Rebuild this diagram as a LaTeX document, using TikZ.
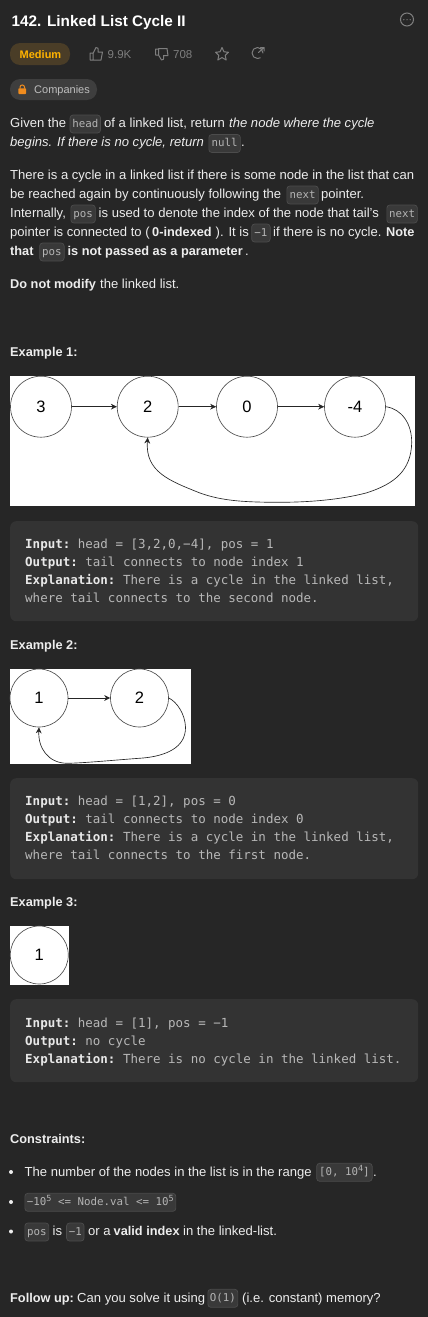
\documentclass[tikz,border=0pt]{standalone}
\usepackage{fontspec}
\setmainfont{Liberation Sans}
\setmonofont{DejaVu Sans Mono}
\usetikzlibrary{arrows.meta}
\definecolor{bg}{HTML}{262626}
\definecolor{body}{HTML}{EDEDED}
\definecolor{boxfill}{HTML}{333333}
\definecolor{chipfill}{HTML}{393939}
\definecolor{chipline}{HTML}{4C4C4C}
\definecolor{chiptext}{HTML}{B4B4B4}
\definecolor{codetext}{HTML}{B8B8B8}
\definecolor{codelabel}{HTML}{E8E8E8}
\definecolor{muted}{HTML}{7E7E7E}
\definecolor{medfill}{HTML}{4A3D27}
\definecolor{medtext}{HTML}{FFB300}
\definecolor{compfill}{HTML}{3E3E3E}
\definecolor{comptext}{HTML}{BEBEBE}
\definecolor{lockc}{HTML}{F08C1E}
\newcommand{\bodysize}{\fontsize{13.07}{16}\selectfont}
\newcommand{\boldsize}{\fontsize{12.75}{16}\selectfont}
\newcommand{\supr}[1]{\raisebox{3.6pt}{\fontsize{8.5}{9}\selectfont #1}}
\tikzset{
  txt/.style={inner sep=0pt,anchor=base west,text=body,font=\bodysize},
  ita/.style={txt,font=\bodysize\itshape},
  bld/.style={txt,font=\boldsize\bfseries},
  chip/.style={draw=chipline,fill=chipfill,line width=.7pt,rounded corners=3pt,inner sep=0pt,
    anchor=west,minimum width=#1,minimum height=18pt,text=chiptext,
    text height=8.5pt,text depth=2.2pt,font=\ttfamily\fontsize{10.8}{12}\selectfont},
  codebox/.style={fill=boxfill,rounded corners=6pt},
  codeline/.style={inner sep=0pt,anchor=base west,text=codetext,font=\ttfamily\fontsize{12.5}{14}\selectfont},
  panel/.style={fill=white},
  lnode/.style={circle,draw=black!70,line width=.65pt,inner sep=0pt,minimum size=#1,text=black,
    font=\fontsize{16.5}{18}\selectfont},
  edge/.style={draw=black!85,line width=.65pt,-{Stealth[length=6pt,width=5.8pt]}},
  icon/.style={draw=muted,line width=1pt,line join=round,line cap=round},
}
\newcommand{\lab}[1]{\textcolor{codelabel}{\bfseries #1}}
\begin{document}
\begin{tikzpicture}[x=1pt,y=-1pt]
\useasboundingbox (0,0) rectangle (428,1317);
\fill[bg] (0,0) rectangle (428,1317);

% header
\node[txt,anchor=base west,font=\fontsize{15.3}{18}\selectfont\bfseries,text=white] (title) at (11.5,26) {142. Linked List Cycle II};
\node[circle,draw=muted,line width=1pt,minimum size=13pt,inner sep=0pt] (more) at (407,19.5) {};
\fill[muted] (403.8,19.7) circle (.7) (407,19.7) circle (.7) (410.2,19.7) circle (.7);
\node[fill=medfill,rounded corners=10pt,minimum width=60pt,minimum height=22pt,inner sep=0pt,anchor=center] (medium) at (40,54) {};
\node[txt,font=\fontsize{11}{14}\selectfont\bfseries,text=medtext] (mediumt) at (19.5,58.5) {Medium};
\draw[icon] (90,53) rectangle (93,60) (93,53.5) -- (96,47.5) .. controls (98,47) and (98.5,48.5) .. (98,52) -- (102.5,52) -- (101,60) -- (93,60);
\node[txt,font=\fontsize{11.5}{14}\selectfont,text=muted] (likes) at (107.5,58.5) {9.9K};
\draw[icon] (155.5,49) rectangle (158.5,55) (158.5,55) -- (161.5,60) .. controls (163.5,60.5) and (164,59) .. (163.5,55.5) -- (168,55.5) -- (167,48.5) -- (158.5,48.5);
\node[txt,font=\fontsize{11.5}{14}\selectfont,text=muted] (dislikes) at (173,58.5) {708};
\draw[icon] (222,47.5) -- (224,51.8) -- (228.5,52.3) -- (225.2,55.3) -- (226.2,60) -- (222,57.6) -- (217.8,60) -- (218.8,55.3) -- (215.5,52.3) -- (220,51.8) -- cycle;
\draw[icon] (263,53) arc[start angle=0,end angle=-300,radius=5.5] (258.5,52.5) -- (264,47.5) (260.5,47.5) -- (264,47.5) -- (264,51);
\node[fill=compfill,rounded corners=10pt,minimum width=87pt,minimum height=21pt,inner sep=0pt] (companies) at (53.5,89.5) {};
\fill[lockc,rounded corners=.8pt] (18.3,88.3) rectangle (26.2,94);
\draw[lockc,line width=1pt] (20,88.5) -- (20,87.2) arc[start angle=180,end angle=360,radius=2.25] -- (24.5,88.5);
\node[txt,font=\fontsize{11}{14}\selectfont,text=comptext] (companiest) at (34,93.5) {Companies};

% paragraph 1
\node[txt] (p1a) at (10,127) {Given the};
\node[chip=30.5pt] (c1) at (69.7,124) {head};
\node[txt] (p1b) at (104,127) {of a linked list, return};
\node[ita] (p1c) at (229,127) {the node where the cycle};
\node[ita] (p1d) at (10,146) {begins. If there is no cycle, return};
\node[chip=31.5pt] (c2) at (208.5,143.5) {null};
\node[txt] (p1e) at (241,146) {.};

% paragraph 2
\node[txt] (p2a) at (10,179) {There is a cycle in a linked list if there is some node in the list that can};
\node[txt] (p2b) at (10,198) {be reached again by continuously following the};
\node[chip=31.5pt] (c3) at (286.5,195) {next};
\node[txt] (p2c) at (321,198) {pointer.};
\node[txt] (p2d) at (10,217) {Internally,};
\node[chip=24.5pt] (c4) at (70.5,214) {pos};
\node[txt] (p2e) at (98.5,217) {is used to denote the index of the node that tail's};
\node[chip=30.5pt] (c5) at (386.5,214) {next};
\node[txt] (p2f) at (10,236) {pointer is connected to (};
\node[bld] (p2g) at (152,236) {0-indexed};
\node[txt] (p2h) at (215.5,236) {). It is};
\node[chip=18.5pt] (c6) at (251.3,233) {−1};
\node[txt] (p2i) at (273,236) {if there is no cycle.};
\node[bld] (p2j) at (386,236) {Note};
\node[bld] (p2k) at (10,255) {that};
\node[chip=24.5pt] (c7) at (39.3,252) {pos};
\node[bld] (p2l) at (67.5,255) {is not passed as a parameter};
\node[txt] (p2m) at (245,255) {.};
\node[bld] (p3a) at (10,288) {Do not modify};
\node[txt] (p3b) at (100,288) {the linked list.};

% example 1
\node[bld] (ex1) at (10,356) {Example 1:};
\node[panel,inner sep=0pt,minimum width=405pt,minimum height=130pt,anchor=north west] (img1) at (10,376) {};
\node[lnode=61pt] (a) at (41,406.7) {3};
\node[lnode=61pt] (b) at (147.7,406.7) {2};
\node[lnode=61pt] (c) at (247,406.7) {0};
\node[lnode=61pt] (d) at (355,406.7) {-4};
\draw[edge] (a) -- (b);
\draw[edge] (b) -- (c);
\draw[edge] (c) -- (d);
\draw[edge] (d.east) .. controls (402,409) and (412,424) .. (411.7,443) .. controls (411,470) and (395,484) .. (366,493) .. controls (335,501) and (300,502.5) .. (273,502.3) .. controls (245,502) and (222,501) .. (200,493) .. controls (170,481) and (145,472) .. (b.south);
\node[codebox,inner sep=0pt,minimum width=408pt,minimum height=100pt,anchor=north west] (box1) at (10,521) {};
\node[codeline] (l11) at (25,548) {\lab{Input:} head = [3,2,0,−4], pos = 1};
\node[codeline] (l12) at (25,566) {\lab{Output:} tail connects to node index 1};
\node[codeline] (l13) at (25,584) {\lab{Explanation:} There is a cycle in the linked list,};
\node[codeline] (l14) at (25,602) {where tail connects to the second node.};

% example 2
\node[bld] (ex2) at (10,649) {Example 2:};
\node[panel,inner sep=0pt,minimum width=181pt,minimum height=95pt,anchor=north west] (img2) at (10,669) {};
\node[lnode=58pt] (e) at (39,698) {1};
\node[lnode=58pt] (f) at (139.5,698) {2};
\draw[edge] (e) -- (f);
\draw[edge] (f.east) .. controls (177,702) and (185,714) .. (185.5,727) .. controls (186,748) and (165,756) .. (143,758) .. controls (115,760) and (85,763) .. (67,763.3) .. controls (48,763) and (38,748) .. (e.south);
\node[codebox,inner sep=0pt,minimum width=408pt,minimum height=101pt,anchor=north west] (box2) at (10,778) {};
\node[codeline] (l21) at (25,805) {\lab{Input:} head = [1,2], pos = 0};
\node[codeline] (l22) at (25,823) {\lab{Output:} tail connects to node index 0};
\node[codeline] (l23) at (25,841) {\lab{Explanation:} There is a cycle in the linked list,};
\node[codeline] (l24) at (25,859) {where tail connects to the first node.};

% example 3
\node[bld] (ex3) at (10,906) {Example 3:};
\node[panel,inner sep=0pt,minimum width=59pt,minimum height=59pt,anchor=north west] (img3) at (10,926) {};
\node[lnode=58pt] (g) at (39.3,955) {1};
\node[codebox,inner sep=0pt,minimum width=408pt,minimum height=83pt,anchor=north west] (box3) at (10,999) {};
\node[codeline] (l31) at (25,1027) {\lab{Input:} head = [1], pos = −1};
\node[codeline] (l32) at (25,1045) {\lab{Output:} no cycle};
\node[codeline] (l33) at (25,1063) {\lab{Explanation:} There is no cycle in the linked list.};

% constraints
\node[bld] (cons) at (10,1143) {Constraints:};
\fill[body] (11,1172) circle (2) (11,1202) circle (2) (11,1231.5) circle (2);
\node[txt] (k1) at (24.5,1176) {The number of the nodes in the list is in the range};
\node[chip=55.5pt] (c8) at (316.3,1172.3) {[0, 10\supr{4}]};
\node[txt] (k2) at (373,1176) {.};
\node[chip=151pt] (c9) at (24.5,1202.3) {−10\supr{5} <= Node.val <= 10\supr{5}};
\node[chip=24pt] (c10) at (24.5,1232) {pos};
\node[txt] (k3) at (52.5,1235) {is};
\node[chip=17.5pt] (c11) at (66.2,1232) {−1};
\node[txt] (k4) at (88,1235) {or a};
\node[bld] (k5) at (113.5,1235) {valid index};
\node[txt] (k6) at (183,1235) {in the linked-list.};
\node[bld] (fu) at (10,1302) {Follow up:};
\node[txt] (fv) at (77,1302) {Can you solve it using};
\node[chip=30pt] (c12) at (207.5,1298.3) {O(1)};
\node[txt] (fw) at (242,1302) {(i.e. constant) memory?};
\end{tikzpicture}
\end{document}
